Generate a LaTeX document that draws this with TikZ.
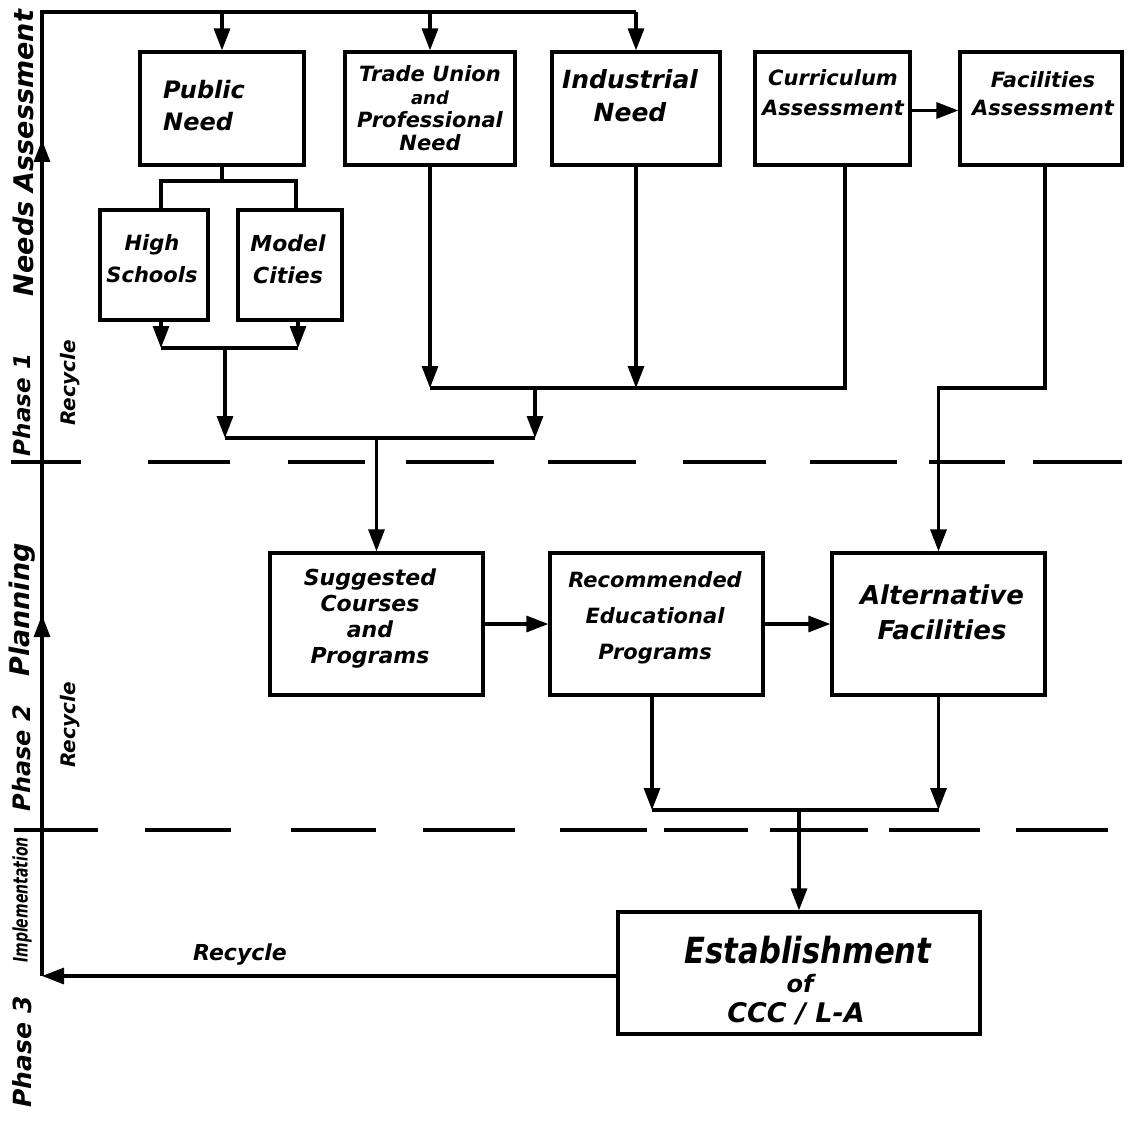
\documentclass[tikz,border=0pt]{standalone}
\usepackage{fontspec}
\setmainfont{DejaVu Sans}
\newfontfamily\narrowhand{DejaVu Sans}[FakeStretch=0.7]
\newfontfamily\semihand{DejaVu Sans}[FakeStretch=0.85]
\usetikzlibrary{arrows.meta}
\begin{document}
\begin{tikzpicture}[x=1pt,y=-1pt,
  box/.style={draw, line width=3.2pt, inner sep=0pt},
  ln/.style={line width=3.2pt},
  arr/.style={line width=3.2pt, -{Triangle[length=22pt,width=16pt]}},
  dsh/.style={line width=3.4pt},
  txt/.style={inner sep=0pt, align=center},
  side/.style={inner sep=0pt, rotate=90}
]
\useasboundingbox[fill=white] (0,0) rectangle (1134,1123);

% boxes
\node[box, minimum width=164pt, minimum height=113pt] (pn)  at (222,108.5) {};
\node[box, minimum width=170pt, minimum height=113pt] (tu)  at (430,108.5) {};
\node[box, minimum width=168pt, minimum height=113pt] (ind) at (636,108.5) {};
\node[box, minimum width=155pt, minimum height=113pt] (cur) at (832.5,108.5) {};
\node[box, minimum width=162pt, minimum height=113pt] (fac) at (1041,108.5) {};
\node[box, minimum width=108pt, minimum height=110pt] (hs)  at (154,265) {};
\node[box, minimum width=104pt, minimum height=110pt] (mc)  at (290,265) {};
\node[box, minimum width=213pt, minimum height=142pt] (sug) at (376.5,624) {};
\node[box, minimum width=213pt, minimum height=142pt] (rec) at (656.5,624) {};
\node[box, minimum width=213pt, minimum height=142pt] (alt) at (938.5,624) {};
\node[box, minimum width=362pt, minimum height=122pt] (est) at (799,973) {};

% box texts
\node[txt, anchor=west, align=left, font=\bfseries\itshape\fontsize{24}{32}\selectfont] (pnT) at (163,106) {Public\\Need};
\node[txt, font=\bfseries\itshape\fontsize{21}{23}\selectfont] (tuT) at (430,108) {Trade Union\\{\fontsize{18}{23}\selectfont and}\\Professional\\Need};
\node[txt, font=\bfseries\itshape\fontsize{25}{33}\selectfont] (indT) at (630,96) {Industrial\\Need};
\node[txt, font=\bfseries\itshape\fontsize{21}{30}\selectfont] (curT) at (833,93) {Curriculum\\Assessment};
\node[txt, font=\bfseries\itshape\fontsize{21}{28}\selectfont] (facT) at (1043,94) {Facilities\\Assessment};
\node[txt, font=\bfseries\itshape\fontsize{21}{32}\selectfont] (hsT) at (152,259) {High\\Schools};
\node[txt, font=\bfseries\itshape\fontsize{22}{32}\selectfont] (mcT) at (288,259) {Model\\Cities};
\node[txt, font=\bfseries\itshape\fontsize{22}{26}\selectfont] (sugT) at (370,619) {Suggested\\Courses\\and\\Programs};
\node[txt, font=\bfseries\itshape\fontsize{21}{36}\selectfont] (recT) at (655,618) {Recommended\\Educational\\Programs};
\node[txt, font=\bfseries\itshape\fontsize{26}{35}\selectfont] (altT) at (942,612) {Alternative\\Facilities};
\node[txt, font=\semihand\bfseries\itshape\fontsize{36}{36}\selectfont, anchor=base] (estT1) at (808,963) {Establishment};
\node[txt, font=\bfseries\itshape\fontsize{24}{28}\selectfont, anchor=base] (estT2) at (800,992) {of};
\node[txt, font=\bfseries\itshape\fontsize{27}{30}\selectfont, anchor=base] (estT3) at (796,1022) {CCC / L-A};

% left axis
\coordinate (axtop) at (42,12);
\coordinate (axbot) at (42,976);
\coordinate (up1s) at (42,180);
\coordinate (up1) at (42,140);
\coordinate (up2s) at (42,660);
\coordinate (up2) at (42,615);
\draw[ln] (axbot) -- (axtop) -- (axtop -| ind.north);
\draw[arr] (up1s) -- (up1);
\draw[arr] (up2s) -- (up2);
\draw[arr] (axtop -| pn.north) -- (pn.north);
\draw[arr] (axtop -| tu.north) -- (tu.north);
\draw[arr] (axtop -| ind.north) -- (ind.north);

% public need branches
\coordinate (pnb) at (222,181);
\draw[ln] (pn.south) -- (pnb);
\draw[ln] ([xshift=7pt]hs.north) |- (pnb) -| ([xshift=6pt]mc.north);
\coordinate (hm) at (161,348);
\coordinate (mm) at (298,348);
\draw[arr] ([xshift=7pt]hs.south) -- (hm);
\draw[arr] ([xshift=8pt]mc.south) -- (mm);
\draw[ln] (hm) -- (mm);
\coordinate (hmc) at (225,348);
\coordinate (j1) at (225,438);
\coordinate (j2) at (535,438);
\draw[arr] (hmc) -- (j1);
\draw[ln] (j1) -- (j2);

% trade / industrial / curriculum collection
\coordinate (r) at (845,388);
\coordinate (r2) at (535,388);
\draw[arr] (tu.south) -- (tu.south |- r);
\draw[arr] (ind.south) -- (ind.south |- r);
\draw[ln] ([xshift=12.5pt]cur.south) |- (tu.south |- r);
\draw[arr] (r2) -- (j2);
\draw[arr] ([yshift=-2pt]cur.east) -- ([yshift=-2pt]fac.west);

% to planning
\draw[arr] (sug.north |- j1) -- (sug.north);
\draw[arr] ([xshift=4pt]fac.south) |- (alt.north |- r) -- (alt.north);
\draw[arr] (sug.east) -- (rec.west);
\draw[arr] (rec.east) -- (alt.west);

% to implementation
\coordinate (b) at (799,810);
\draw[arr] ([xshift=-4.5pt]rec.south) -- ([xshift=-4.5pt]rec.south |- b);
\draw[arr] (alt.south) -- (alt.south |- b);
\draw[ln] ([xshift=-4.5pt]rec.south |- b) -- (alt.south |- b);
\draw[arr] (b) -- (est.north);
\draw[arr] ([yshift=-3pt]est.west) -- (axbot);
\node[txt, font=\bfseries\itshape\fontsize{22}{24}\selectfont] (recyc3) at (240,955) {Recycle};

% dashed phase lines
\foreach \a/\b in {11/81,148/230,288/365,406/494,548/636,683/766,810/897,929/1005,1033/1122}
  \draw[dsh] (\a,462) -- (\b,462);
\foreach \a/\b in {14/98,145/231,291/376,423/515,560/647,664/748,770/868,889/980,1016/1108}
  \draw[dsh] (\a,830) -- (\b,830);

% side labels
\node[side, font=\bfseries\itshape\fontsize{23}{23}\selectfont] (ph1) at (22,405) {Phase 1};
\node[side, font=\bfseries\itshape\fontsize{27}{27}\selectfont] (na) at (23,153) {Needs Assessment};
\node[side, font=\bfseries\itshape\fontsize{20}{20}\selectfont] (rc1) at (70,383) {Recycle};
\node[side, font=\bfseries\itshape\fontsize{24}{24}\selectfont] (ph2) at (22,758) {Phase 2};
\node[side, font=\bfseries\itshape\fontsize{27}{27}\selectfont] (pl) at (22,610) {Planning};
\node[side, font=\bfseries\itshape\fontsize{20}{20}\selectfont] (rc2) at (70,725) {Recycle};
\node[side, font=\bfseries\itshape\fontsize{25}{25}\selectfont] (ph3) at (22,1052) {Phase 3};
\node[side, font=\narrowhand\bfseries\itshape\fontsize{20}{20}\selectfont] (imp) at (22,900) {Implementation};
\end{tikzpicture}
\end{document}
